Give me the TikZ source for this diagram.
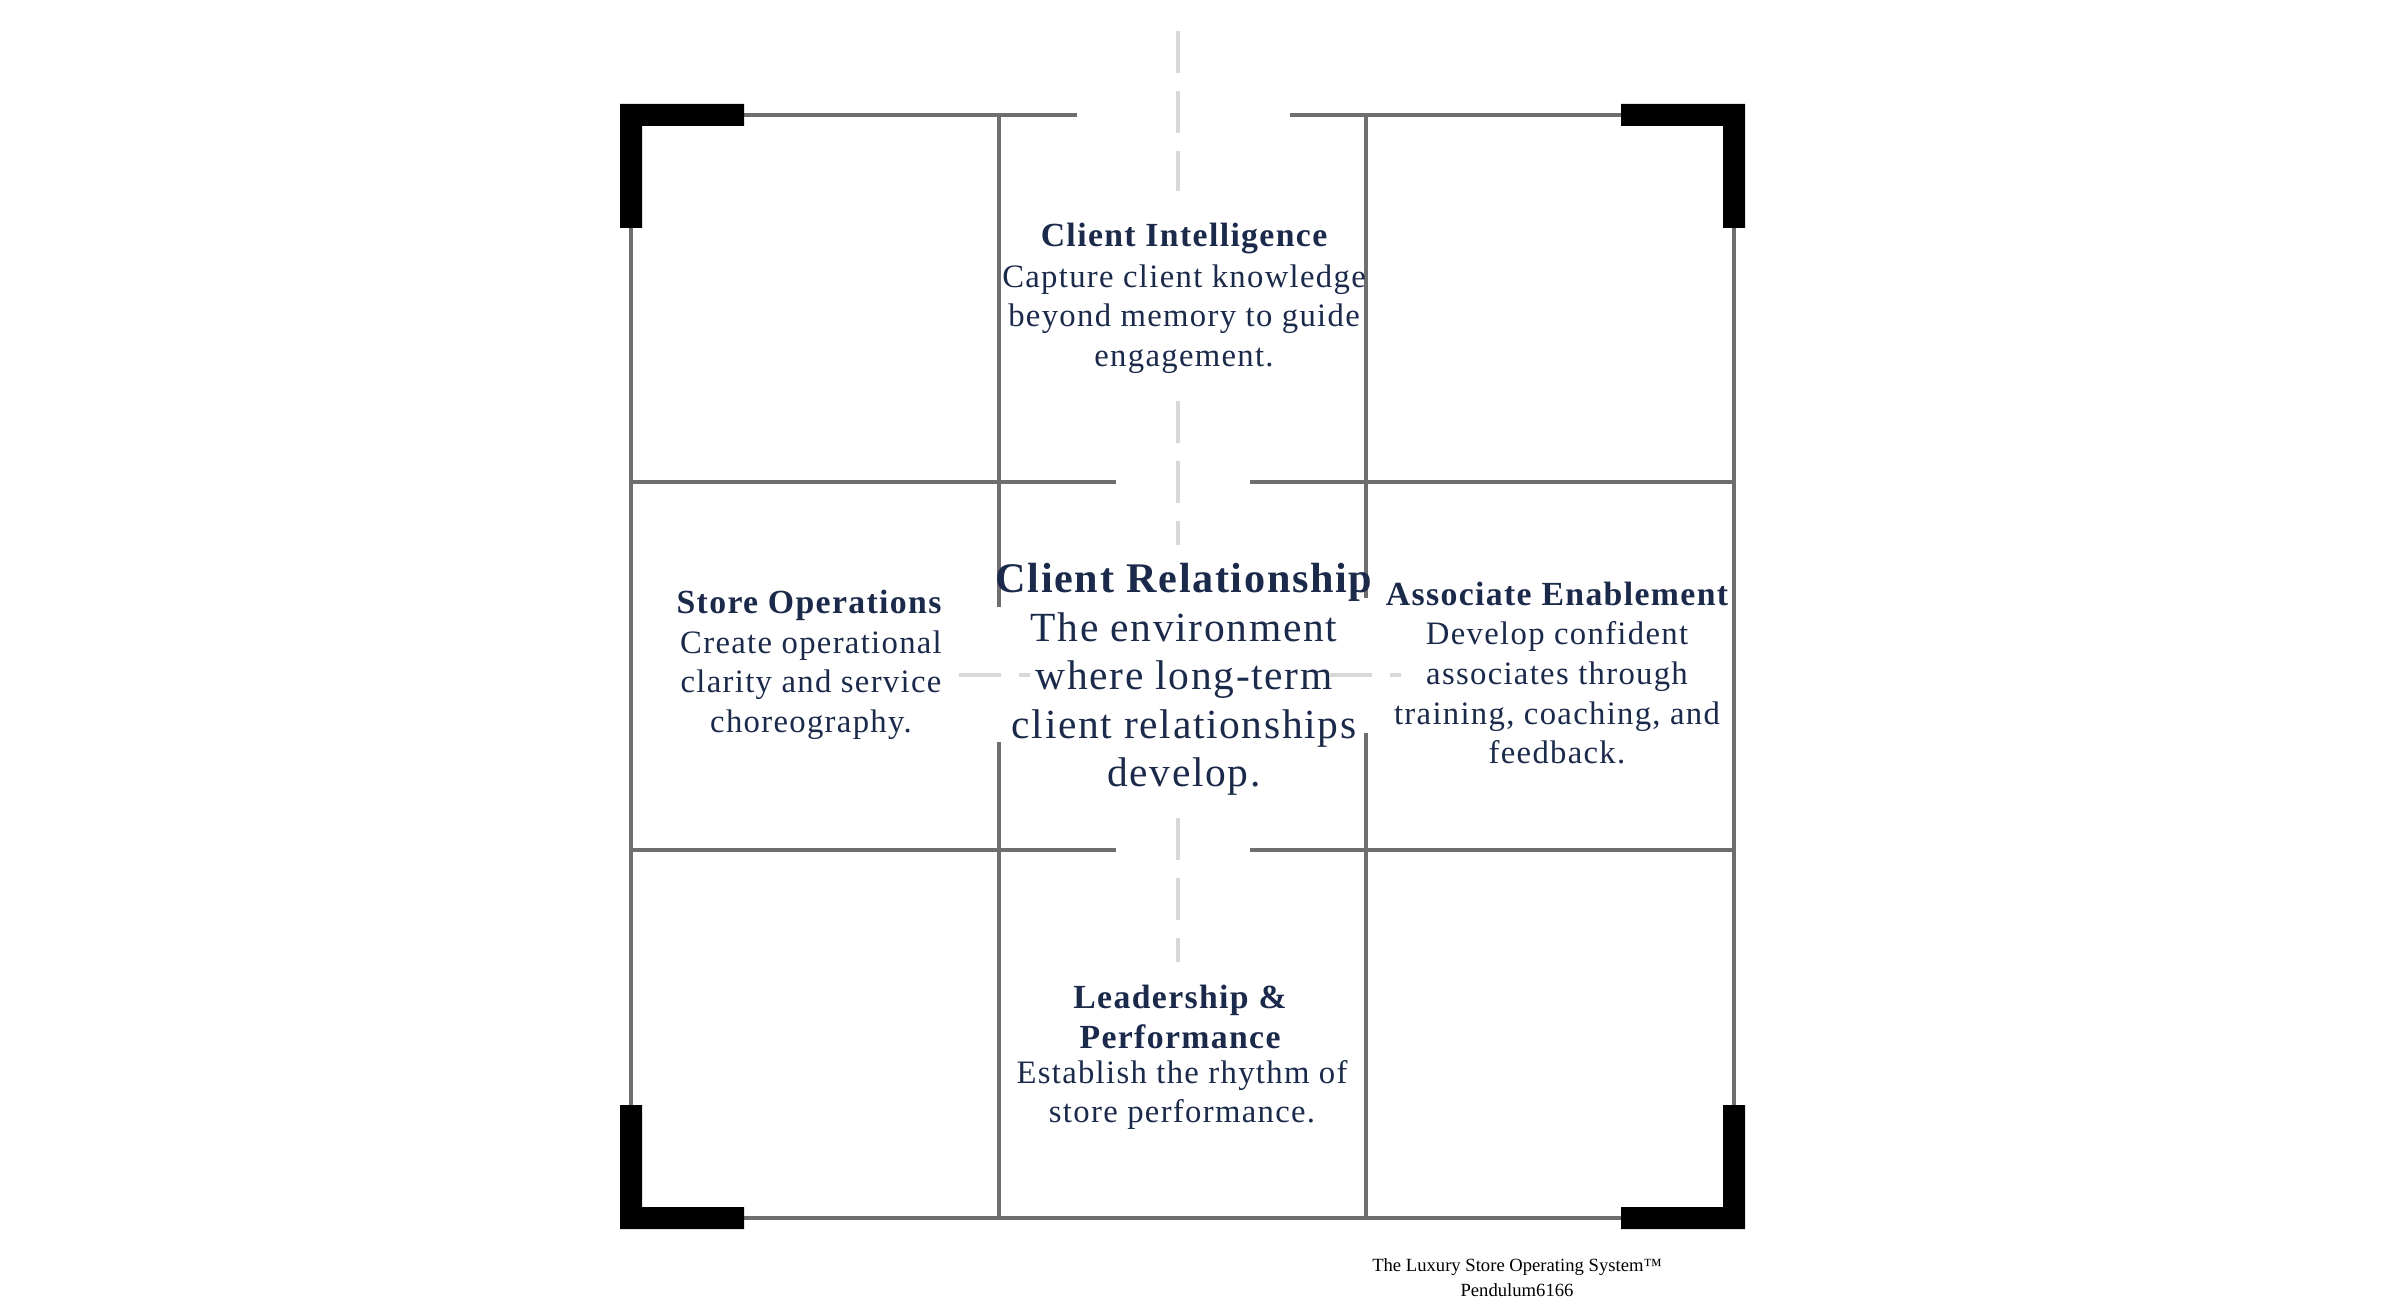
\documentclass[tikz,border=0pt]{standalone}
\usepackage{fontspec}
\setmainfont{Liberation Serif}
\newfontfamily\spacedfont[LetterSpace=4]{Liberation Serif}
\definecolor{navy}{HTML}{1B2A4A}
\definecolor{gridgray}{HTML}{6E6E6E}
\definecolor{dashgray}{HTML}{D8D8D8}
\begin{document}
\begin{tikzpicture}[x=0.01cm,y=-0.01cm,
  gridline/.style={draw=gridgray,line width=0.9pt},
  dashline/.style={draw=dashgray,line width=0.9pt,dash pattern=on 12pt off 5pt},
  bracket/.style={fill=black},
  ttl/.style={text=navy,font=\spacedfont\bfseries\fontsize{9.6}{11.3}\selectfont,align=center,inner sep=0},
  bigttl/.style={text=navy,font=\spacedfont\bfseries\fontsize{12}{14}\selectfont,align=center,inner sep=0},
  body/.style={text=navy,font=\spacedfont\fontsize{9.3}{11.3}\selectfont,align=center,inner sep=0},
  bigbody/.style={text=navy,font=\spacedfont\fontsize{11.8}{13.8}\selectfont,align=center,inner sep=0},
  foot/.style={text=black,font=\fontsize{5.3}{7.1}\selectfont,align=center,inner sep=0}]
\useasboundingbox (0,0) rectangle (2400,1300);
% grid
\draw[gridline] (631,115) -- (1077,115);
\draw[gridline] (1290,115) -- (1734,115);
\draw[gridline] (631,1218) -- (1734,1218);
\draw[gridline] (631,115) -- (631,1218);
\draw[gridline] (1734,115) -- (1734,1218);
\draw[gridline] (631,482) -- (1116,482);
\draw[gridline] (1250,482) -- (1734,482);
\draw[gridline] (631,850) -- (1116,850);
\draw[gridline] (1250,850) -- (1734,850);
\draw[gridline] (999,115) -- (999,607);
\draw[gridline] (999,742) -- (999,1218);
\draw[gridline] (1366,115) -- (1366,598);
\draw[gridline] (1366,733) -- (1366,1218);
% dashed guides
\draw[dashline] (1178,31) -- (1178,191);
\draw[dashline] (1178,401) -- (1178,545);
\draw[dashline] (1178,818) -- (1178,962);
\draw[dashline] (959,675) -- (1030,675);
\draw[dashline] (1330,675) -- (1401,675);
% corner brackets
\fill[bracket] (620,104) -- (744,104) -- (744,126) -- (642,126) -- (642,228) -- (620,228) -- cycle;
\fill[bracket] (1745,104) -- (1621,104) -- (1621,126) -- (1723,126) -- (1723,228) -- (1745,228) -- cycle;
\fill[bracket] (620,1229) -- (744,1229) -- (744,1207) -- (642,1207) -- (642,1105) -- (620,1105) -- cycle;
\fill[bracket] (1745,1229) -- (1621,1229) -- (1621,1207) -- (1723,1207) -- (1723,1105) -- (1745,1105) -- cycle;
% texts
\node[ttl] (ciT) at (1184,239) {Client Intelligence};
\node[body] (ciB) at (1184,319) {Capture client knowledge\\beyond memory to guide\\engagement.};
\node[ttl] (soT) at (809,605) {Store Operations};
\node[body] (soB) at (811,685) {Create operational\\clarity and service\\choreography.};
\node[ttl] (aeT) at (1557,594) {Associate Enablement};
\node[body] (aeB) at (1557,693) {Develop confident\\associates through\\training, coaching, and\\feedback.};
\node[ttl] (lpT) at (1180,1017) {Leadership \&\\Performance};
\node[body] (lpB) at (1182,1095) {Establish the rhythm of\\store performance.};
\node[bigttl] (crT) at (1184,582) {Client Relationship};
\node[bigbody] (crB) at (1184,704) {The environment\\where long-term\\client relationships\\develop.};
\node[foot] (ft) at (1517,1278) {The Luxury Store Operating System™\\Pendulum6166};
\end{tikzpicture}
\end{document}
